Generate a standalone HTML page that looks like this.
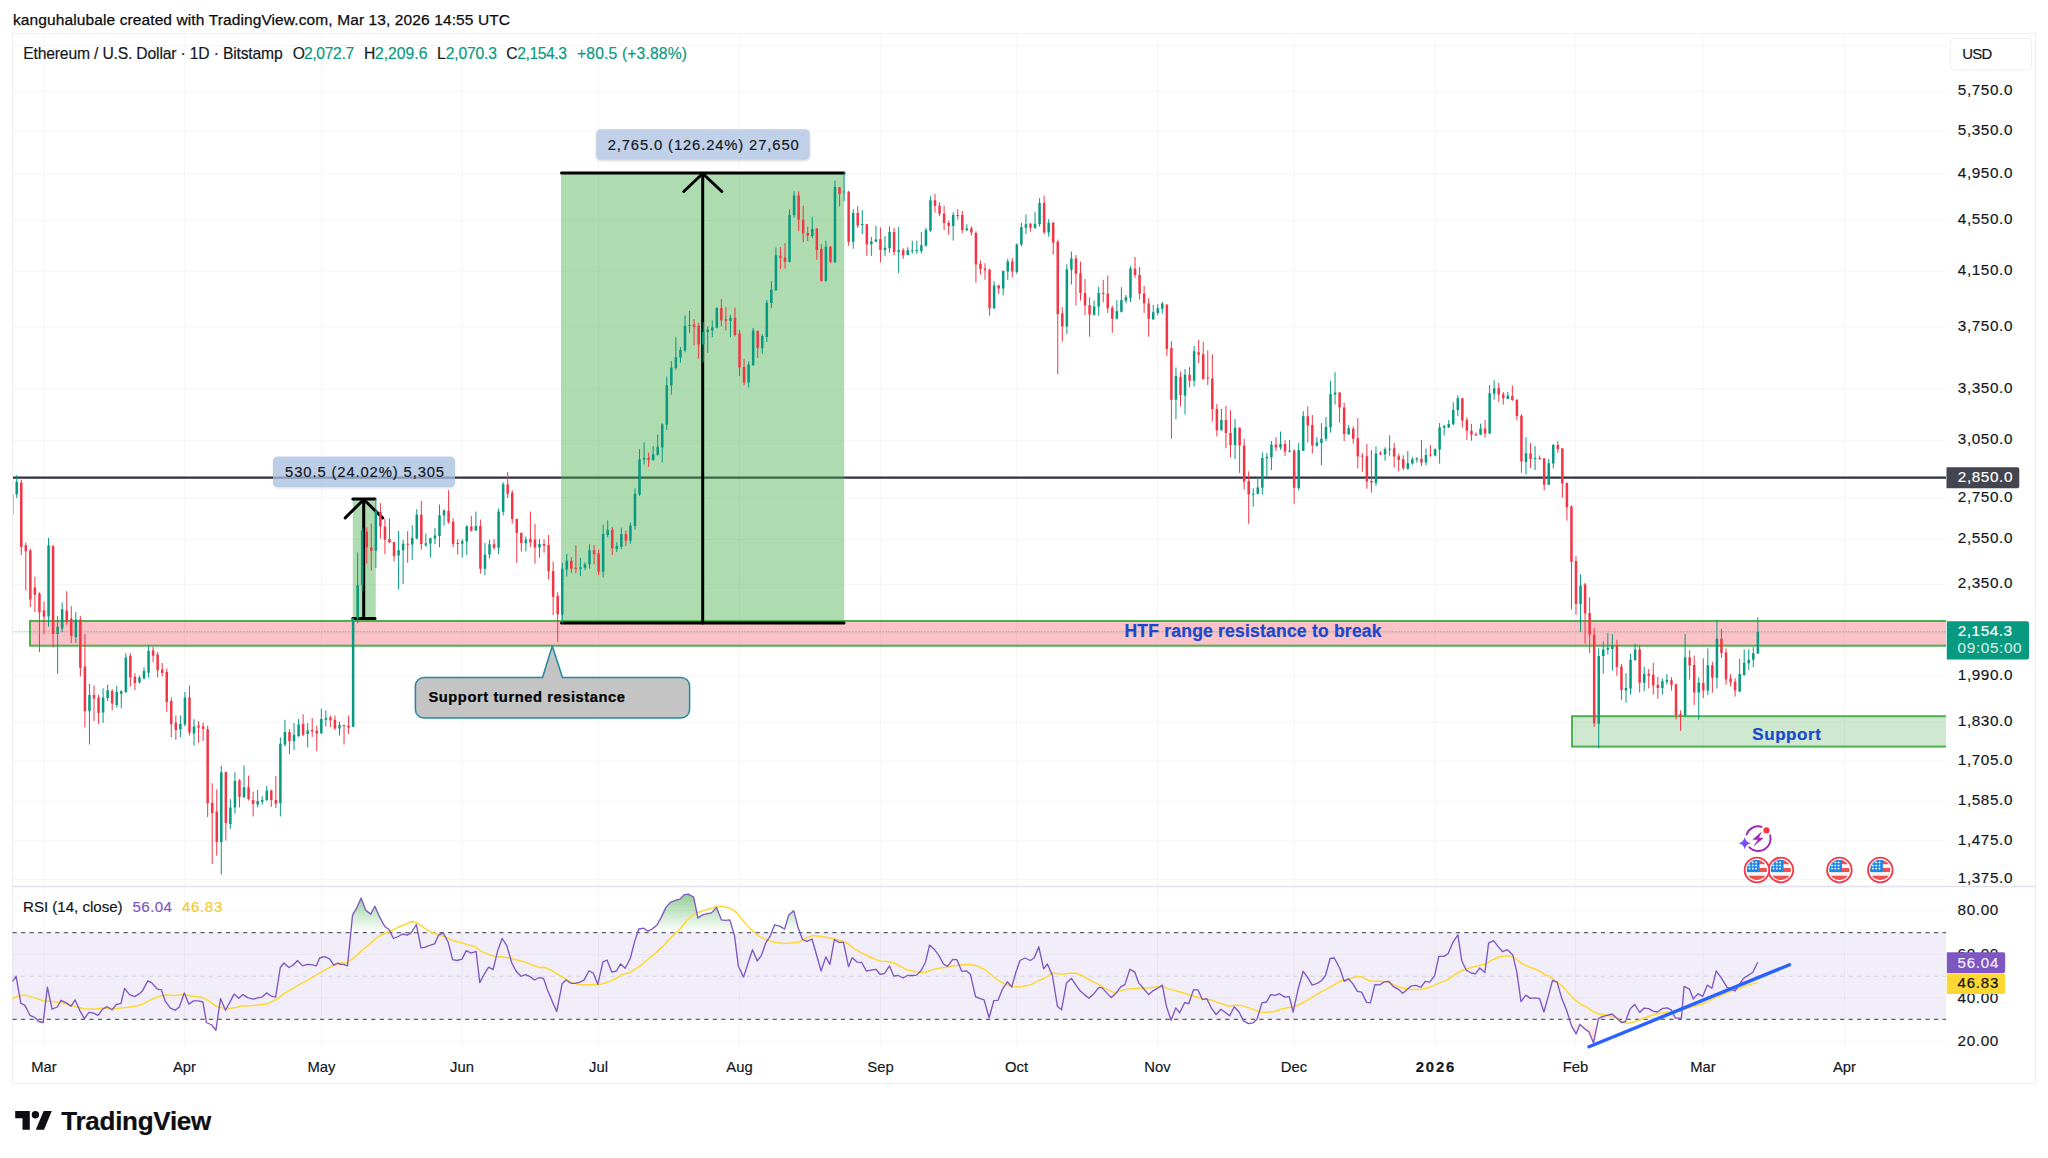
<!DOCTYPE html>
<html lang="en"><head><meta charset="utf-8"><title>ETHUSD chart</title><style>html,body{margin:0;padding:0;background:#fff}svg{display:block}</style></head><body>
<svg width="2048" height="1158" viewBox="0 0 2048 1158" font-family='"Liberation Sans", sans-serif' shape-rendering="auto">
<defs>
<linearGradient id="gob" gradientUnits="userSpaceOnUse" x1="0" y1="893" x2="0" y2="932.6"><stop offset="0" stop-color="#4caf50" stop-opacity="0.62"/><stop offset="1" stop-color="#4caf50" stop-opacity="0"/></linearGradient>
<linearGradient id="gos" gradientUnits="userSpaceOnUse" x1="0" y1="1019.4" x2="0" y2="1050"><stop offset="0" stop-color="#ff5252" stop-opacity="0"/><stop offset="1" stop-color="#ff5252" stop-opacity="0.4"/></linearGradient>
<clipPath id="cpMain"><rect x="12.5" y="33.5" width="1933.5" height="853.0"/></clipPath>
<clipPath id="cpOB"><rect x="0" y="880" width="2048" height="52.6"/></clipPath>
<clipPath id="cpOS"><rect x="0" y="1019.4" width="2048" height="40"/></clipPath>
<clipPath id="flagclip"><circle cx="0" cy="0" r="10.2"/></clipPath>
<filter id="sh" x="-10%" y="-30%" width="120%" height="170%"><feDropShadow dx="0" dy="1" stdDeviation="1.2" flood-color="#000" flood-opacity="0.18"/></filter>
</defs>
<rect width="2048" height="1158" fill="#fff"/>
<text x="13.0" y="24.8" font-size="15.5" fill="#0c0c0e" textLength="497" lengthAdjust="spacing" stroke="#0c0c0e" stroke-width="0.25">kanguhalubale created with TradingView.com, Mar 13, 2026 14:55 UTC</text>
<path d="M44 33.5V1048.8M184.5 33.5V1048.8M321.5 33.5V1048.8M462 33.5V1048.8M598.5 33.5V1048.8M739.5 33.5V1048.8M880.5 33.5V1048.8M1016.5 33.5V1048.8M1157.5 33.5V1048.8M1294 33.5V1048.8M1435 33.5V1048.8M1575.5 33.5V1048.8M1703 33.5V1048.8M1844.5 33.5V1048.8M12.5 91.5H1946.0M12.5 131.2H1946.0M12.5 174.0H1946.0M12.5 220.4H1946.0M12.5 271.1H1946.0M12.5 326.9H1946.0M12.5 389.1H1946.0M12.5 440.7H1946.0M12.5 497.8H1946.0M12.5 539.4H1946.0M12.5 584.3H1946.0M12.5 675.9H1946.0M12.5 722.1H1946.0M12.5 761.1H1946.0M12.5 801.3H1946.0M12.5 840.9H1946.0M12.5 879.6H1946.0M12.5 45.4H1946.0M12.5 633.3395925784639H1946.0M12.5 910.7H1946.0M12.5 954.4H1946.0M12.5 997.9H1946.0M12.5 1041.4H1946.0" stroke="#f4f5f7" stroke-width="1" fill="none"/>
<g clip-path="url(#cpMain)">
<path d="M12.5 477.65H1946.0" stroke="#2e3140" stroke-width="2.1"/>
<rect x="30" y="621" width="1926.0" height="24.7" fill="rgba(242,54,69,0.30)" stroke="#4caf50" stroke-width="2"/>
<rect x="1572" y="716.2" width="384.0" height="30.4" fill="rgba(76,175,80,0.27)" stroke="#4caf50" stroke-width="2"/>
<rect x="561" y="173" width="283.2" height="450" fill="rgba(76,175,80,0.45)"/>
<rect x="352.8" y="499" width="23" height="119.7" fill="rgba(76,175,80,0.45)"/>
<path d="M12.5 631.8H1946.0" stroke="#089981" stroke-width="1" stroke-dasharray="1 2" opacity="0.8"/>
<g stroke="#000" stroke-width="3" stroke-linecap="round" stroke-linejoin="round" fill="none">
<path d="M561.5 173H844"/><path d="M561.5 623H844"/><path d="M702.7 623V173.5"/><path d="M683.8 191.5L702.7 173.5L721.8 191.5"/>
</g>
<g stroke="#000" stroke-width="3" stroke-linecap="round" stroke-linejoin="round" fill="none">
<path d="M352.8 498.9H375"/><path d="M352.8 618.6H375"/><path d="M363.7 618V499.5"/><path d="M345.2 517.9L363.7 499.5L382.6 517.9"/>
</g>
<path d="M12.18 494.4V516.2M16.72 475.2V498.1M48.55 537.9V626.7M57.64 615.9V673.8M62.18 602.4V632.2M75.82 612.2V643.0M89.46 684.0V744.5M103.10 688.3V722.8M107.64 684.7V701.0M116.74 685.8V707.6M121.28 690.2V708.3M125.83 653.2V693.1M139.47 675.7V683.6M144.01 667.3V679.3M148.56 644.8V677.5M180.38 715.5V737.3M184.93 692.0V726.4M194.02 719.2V745.6M221.29 765.9V874.5M230.39 799.1V828.7M234.93 772.3V813.7M244.02 765.4V798.3M257.66 790.0V807.4M262.21 796.3V804.6M266.75 786.1V801.0M280.39 737.4V816.5M284.94 719.8V746.6M294.03 723.1V749.9M298.58 718.9V736.9M307.67 723.1V747.4M321.31 708.7V734.1M325.85 710.1V726.4M339.49 721.7V735.5M353.13 618.0V726.8M357.67 552.4V623.2M362.22 528.2V591.3M375.86 498.9V567.9M398.59 530.8V589.5M403.13 539.8V584.0M412.23 525.1V559.8M416.77 509.2V539.4M425.86 533.4V546.9M430.41 537.7V557.6M434.96 528.2V544.1M439.50 504.6V547.2M444.05 509.2V525.6M462.23 539.1V557.6M466.78 525.1V555.0M475.87 511.5V530.8M484.96 542.9V575.2M489.51 539.8V558.4M498.60 508.4V554.1M503.15 482.1V515.6M525.88 536.5V551.5M539.51 539.1V557.6M562.24 562.8V623.1M566.79 554.0V576.7M580.43 557.9V576.1M584.97 562.3V570.2M589.52 544.3V568.7M603.16 524.7V577.5M607.70 520.3V537.3M616.80 542.3V552.0M621.34 527.6V549.0M630.43 522.6V543.8M634.98 488.5V529.7M639.53 449.2V495.9M644.07 442.4V464.5M653.16 446.0V460.9M657.71 434.5V455.7M662.26 423.3V462.4M666.80 376.4V430.1M671.35 361.1V394.6M675.89 337.3V369.9M680.44 347.0V362.6M684.99 315.3V352.3M689.53 310.9V332.9M703.17 322.0V362.3M707.72 326.4V352.9M712.26 320.3V337.1M716.81 307.1V328.4M730.45 314.8V337.1M748.63 361.5V387.7M753.18 328.0V366.0M762.27 334.1V353.8M766.81 300.0V342.0M771.36 281.1V308.1M775.91 247.6V290.9M789.54 209.3V262.4M794.09 191.4V217.8M812.27 216.8V238.1M825.91 240.7V281.7M835.00 180.6V263.1M844.10 172.1V201.1M853.19 209.3V248.8M862.28 210.1V234.0M871.37 237.1V255.9M875.92 225.9V242.1M885.01 236.1V255.9M889.56 226.5V252.7M898.65 226.9V273.2M907.74 247.2V255.3M912.29 240.7V253.7M916.83 240.7V253.7M921.38 231.8V253.5M925.92 227.8V246.5M930.47 196.3V231.8M953.20 212.2V240.6M966.84 224.3V231.3M994.11 281.4V309.0M1003.21 270.5V295.4M1007.75 258.8V279.8M1016.84 243.4V273.8M1021.39 222.7V246.5M1025.94 214.5V234.1M1035.03 212.2V229.0M1039.57 198.2V226.6M1048.67 219.2V236.7M1066.85 264.4V333.9M1071.40 251.6V284.5M1094.13 300.6V315.7M1098.67 286.8V315.7M1116.86 300.1V319.5M1121.40 287.3V312.5M1125.95 295.0V302.9M1130.49 266.3V302.0M1153.22 304.8V319.9M1157.77 304.3V315.3M1162.32 302.0V313.6M1175.95 367.5V419.3M1185.05 369.0V414.4M1194.14 346.0V386.5M1221.41 408.9V430.7M1235.05 419.1V459.2M1253.24 488.1V506.7M1257.78 477.3V494.4M1262.33 452.4V494.7M1266.87 453.0V477.6M1271.42 441.0V470.0M1280.51 431.5V449.7M1289.60 440.0V452.4M1298.70 443.1V490.4M1303.24 411.2V451.1M1316.88 437.2V446.7M1321.43 423.1V465.3M1325.97 417.2V441.2M1330.52 380.8V432.6M1335.06 372.2V404.5M1348.70 425.0V434.9M1375.98 446.3V485.8M1385.07 447.3V460.6M1389.62 435.3V455.8M1407.80 451.0V469.7M1412.35 457.1V464.8M1416.89 457.2V462.8M1425.98 448.6V465.4M1435.08 448.4V456.4M1439.62 423.0V463.6M1444.17 424.8V435.6M1448.71 420.1V427.9M1453.26 402.3V425.1M1457.81 395.4V416.1M1480.54 423.6V435.1M1489.63 385.0V433.9M1494.17 380.2V399.7M1507.81 392.0V399.2M1526.00 437.2V474.5M1535.09 446.0V470.0M1548.73 458.8V484.9M1553.27 444.1V468.5M1580.55 574.3V631.9M1598.73 648.4V748.3M1603.28 641.3V673.7M1607.82 633.1V654.6M1612.37 634.1V670.6M1626.01 673.1V702.8M1630.55 653.6V694.6M1635.10 643.9V660.8M1644.19 666.9V691.1M1662.38 678.6V694.6M1666.92 674.1V684.7M1685.11 634.1V716.1M1698.74 677.2V719.8M1707.84 648.4V695.0M1716.93 620.4V688.4M1739.66 658.7V691.9M1744.20 649.5V675.7M1748.75 649.5V670.0M1753.30 647.0V667.3M1757.84 617.3V654.0" stroke="#089981" stroke-width="1" fill="none"/>
<path d="M21.27 479.9V555.0M25.82 542.6V590.5M30.36 548.8V606.8M34.91 576.7V612.2M39.45 592.3V652.1M44.00 601.4V634.0M53.09 545.2V647.7M66.73 591.2V624.9M71.28 606.1V643.0M80.37 615.9V676.4M84.91 634.0V727.5M94.01 685.4V721.0M98.55 694.9V723.9M112.19 689.1V710.1M130.37 653.2V686.5M134.92 673.1V690.2M153.10 646.7V662.2M157.65 652.1V677.5M162.20 663.0V676.4M166.74 668.4V711.9M171.29 697.4V737.3M175.83 715.5V739.8M189.47 685.4V735.5M198.56 721.0V742.7M203.11 722.8V740.9M207.66 725.8V817.0M212.20 783.3V864.0M216.75 789.4V855.7M225.84 771.4V840.5M239.48 779.2V807.4M248.57 775.6V800.5M253.12 791.6V816.5M271.30 789.4V806.8M275.85 776.1V807.9M289.48 729.2V754.3M303.12 714.2V736.1M312.21 718.1V736.9M316.76 725.8V751.3M330.40 715.6V727.2M334.94 715.6V730.0M344.04 725.0V744.6M348.58 715.6V734.1M366.77 527.4V563.6M371.31 523.6V570.5M380.40 503.2V538.6M384.95 518.7V554.1M389.50 518.4V542.9M394.04 542.0V561.4M407.68 531.2V562.8M421.32 500.9V549.8M448.59 490.2V523.6M453.14 518.2V547.2M457.69 539.1V554.5M471.32 516.1V531.7M480.42 519.6V573.6M494.05 539.1V549.8M507.69 472.1V498.0M512.24 490.2V523.6M516.78 518.7V562.8M521.33 532.5V551.5M530.42 511.5V546.9M534.97 523.9V563.6M544.06 539.4V552.7M548.61 535.1V579.5M553.15 561.6V615.1M557.70 592.2V642.1M571.34 557.0V573.1M575.88 545.2V573.1M594.07 545.2V564.3M598.61 549.6V575.2M612.25 527.0V554.9M625.89 530.5V546.1M648.62 452.7V466.8M694.08 319.1V345.5M698.62 322.9V358.7M721.35 299.0V326.4M725.90 307.1V330.4M734.99 307.7V336.5M739.54 329.8V376.1M744.08 358.9V385.3M757.72 330.4V357.9M780.45 247.2V269.1M785.00 243.2V268.5M798.64 191.4V231.0M803.18 205.6V242.1M807.73 226.5V241.1M816.82 227.9V259.8M821.37 244.2V281.7M830.46 245.8V263.1M839.55 186.9V206.6M848.64 190.8V245.8M857.73 206.2V227.9M866.83 223.9V255.9M880.46 227.5V262.4M894.10 227.9V255.3M903.19 248.2V259.0M935.02 194.0V212.6M939.56 202.2V216.1M944.11 205.7V230.1M948.65 220.8V234.8M957.75 209.2V219.6M962.29 211.0V233.2M971.38 226.2V235.5M975.93 231.3V282.6M980.48 260.5V274.4M985.02 263.3V279.8M989.57 268.6V315.7M998.66 284.9V293.8M1012.30 258.1V277.5M1030.48 223.1V231.8M1044.12 195.6V234.1M1053.21 222.0V254.6M1057.76 239.5V374.0M1062.30 307.1V341.6M1075.94 255.1V305.5M1080.49 261.6V300.6M1085.03 279.1V315.3M1089.58 297.3V336.7M1103.22 279.8V302.4M1107.76 275.6V312.9M1112.31 305.9V332.8M1135.04 257.0V277.9M1139.59 267.0V299.6M1144.13 286.1V312.9M1148.68 298.2V336.7M1166.86 303.9V356.1M1171.41 341.3V438.7M1180.50 371.7V406.4M1189.59 367.1V387.4M1198.68 339.9V363.3M1203.23 341.8V379.8M1207.78 350.4V385.1M1212.32 354.2V421.6M1216.87 404.1V436.4M1225.96 406.0V448.2M1230.51 410.2V457.3M1239.60 427.3V472.9M1244.14 438.7V489.6M1248.69 471.4V523.8M1275.97 437.2V451.1M1285.06 440.2V455.8M1294.15 449.2V503.7M1307.79 406.4V442.5M1312.33 415.0V453.5M1339.61 392.2V422.6M1344.16 402.6V441.0M1353.25 426.4V443.5M1357.79 418.2V468.5M1362.34 453.0V471.9M1366.89 444.0V488.7M1371.43 450.1V492.5M1380.52 451.1V455.2M1394.16 443.1V467.6M1398.71 453.9V471.4M1403.25 455.3V470.2M1421.44 440.0V466.2M1430.53 445.1V456.7M1462.35 398.0V427.4M1466.90 417.3V440.0M1471.44 423.9V440.7M1475.99 432.5V436.0M1485.08 419.9V437.7M1498.72 383.0V401.8M1503.27 392.0V404.6M1512.36 385.4V400.9M1516.90 399.4V420.4M1521.45 414.1V472.8M1530.54 443.2V467.9M1539.63 455.5V459.8M1544.18 458.1V490.4M1557.82 441.2V452.7M1562.36 448.1V497.7M1566.91 482.4V520.6M1571.46 505.4V609.4M1576.00 556.2V614.7M1585.09 582.8V643.7M1589.64 597.3V652.9M1594.19 627.9V727.0M1616.92 639.8V675.7M1621.46 664.2V699.7M1639.65 645.4V692.5M1648.74 669.0V688.4M1653.28 662.8V694.6M1657.83 676.8V698.7M1671.47 677.2V690.5M1676.01 683.9V719.6M1680.56 710.4V730.9M1689.65 650.1V679.6M1694.20 655.6V704.8M1703.29 658.3V698.1M1712.38 661.8V692.5M1721.47 629.0V657.7M1726.02 648.4V684.7M1730.57 674.1V686.4M1735.11 678.2V696.6" stroke="#f23645" stroke-width="1" fill="none"/>
<path d="M10.93 494.4H13.43V514.4H10.93ZM15.47 481.7H17.97V494.4H15.47ZM47.30 545.2H49.80V616.6H47.30ZM56.39 626.7H58.89V634.0H56.39ZM60.93 609.3H63.43V628.5H60.93ZM74.57 619.5H77.07V636.9H74.57ZM88.21 694.9H90.71V711.2H88.21ZM101.85 697.4H104.35V712.6H101.85ZM106.39 690.2H108.89V698.1H106.39ZM115.49 692.0H117.99V705.0H115.49ZM120.03 691.2H122.53V693.8H120.03ZM124.58 657.5H127.08V692.0H124.58ZM138.22 677.5H140.72V682.2H138.22ZM142.76 670.9H145.26V678.6H142.76ZM147.31 651.0H149.81V672.8H147.31ZM179.13 723.9H181.63V729.3H179.13ZM183.68 697.4H186.18V724.6H183.68ZM192.77 726.4H195.27V733.6H192.77ZM220.04 772.3H222.54V841.9H220.04ZM229.14 807.4H231.64V824.0H229.14ZM233.68 781.1H236.18V807.4H233.68ZM242.77 787.2H245.27V796.9H242.77ZM256.41 801.0H258.91V804.6H256.41ZM260.96 799.9H263.46V801.8H260.96ZM265.50 790.8H268.00V799.9H265.50ZM279.14 743.8H281.64V803.2H279.14ZM283.69 731.9H286.19V744.6H283.69ZM292.78 734.7H295.28V741.0H292.78ZM297.33 724.5H299.83V736.1H297.33ZM306.42 730.5H308.92V734.1H306.42ZM320.06 718.9H322.56V733.3H320.06ZM324.60 718.1H327.10V719.8H324.60ZM338.24 725.0H340.74V728.6H338.24ZM351.88 618.5H354.38V726.8H351.88ZM356.42 585.2H358.92V618.5H356.42ZM360.97 530.8H363.47V585.2H360.97ZM374.61 510.9H377.11V550.7H374.61ZM397.34 550.2H399.84V555.5H397.34ZM401.88 543.8H404.38V550.2H401.88ZM410.98 538.1H413.48V544.6H410.98ZM415.52 514.7H418.02V538.6H415.52ZM424.61 543.2H427.11V545.0H424.61ZM429.16 538.2H431.66V543.4H429.16ZM433.71 535.6H436.21V538.6H433.71ZM438.25 515.3H440.75V536.0H438.25ZM442.80 510.6H445.30V515.6H442.80ZM460.98 541.2H463.48V543.8H460.98ZM465.53 526.5H468.03V541.5H465.53ZM474.62 526.1H477.12V530.5H474.62ZM483.71 554.5H486.21V568.8H483.71ZM488.26 544.3H490.76V554.6H488.26ZM497.35 511.5H499.85V547.7H497.35ZM501.90 484.2H504.40V511.8H501.90ZM524.63 539.4H527.13V543.2H524.63ZM538.26 544.1H540.76V547.6H538.26ZM560.99 568.7H563.49V614.8H560.99ZM565.54 560.8H568.04V569.6H565.54ZM579.18 567.3H581.68V568.7H579.18ZM583.72 564.3H586.22V567.8H583.72ZM588.27 550.2H590.77V564.3H588.27ZM601.91 534.1H604.41V571.7H601.91ZM606.45 529.7H608.95V534.9H606.45ZM615.55 546.1H618.05V549.0H615.55ZM620.09 534.1H622.59V546.7H620.09ZM629.18 525.6H631.68V540.8H629.18ZM633.73 493.8H636.23V526.1H633.73ZM638.28 459.2H640.78V494.4H638.28ZM642.82 457.7H645.32V459.5H642.82ZM651.91 454.2H654.41V460.1H651.91ZM656.46 446.8H658.96V454.8H656.46ZM661.01 424.2H663.51V447.4H661.01ZM665.55 385.2H668.05V424.8H665.55ZM670.10 367.5H672.60V385.2H670.10ZM674.64 357.3H677.14V368.1H674.64ZM679.19 349.9H681.69V357.6H679.19ZM683.74 325.8H686.24V350.5H683.74ZM688.28 325.0H690.78V326.0H688.28ZM701.92 331.7H704.42V344.6H701.92ZM706.47 329.4H708.97V332.3H706.47ZM711.01 327.4H713.51V330.4H711.01ZM715.56 308.1H718.06V327.8H715.56ZM729.20 317.7H731.70V320.7H729.20ZM747.38 364.6H749.88V382.6H747.38ZM751.93 330.4H754.43V365.0H751.93ZM761.02 336.1H763.52V348.3H761.02ZM765.56 302.6H768.06V337.1H765.56ZM770.11 289.8H772.61V303.0H770.11ZM774.66 255.3H777.16V290.3H774.66ZM788.29 214.7H790.79V261.8H788.29ZM792.84 195.5H795.34V215.3H792.84ZM811.02 228.9H813.52V236.1H811.02ZM824.66 246.8H827.16V281.1H824.66ZM833.75 186.9H836.25V262.0H833.75ZM842.85 191.4H845.35V192.4H842.85ZM851.94 213.1H854.44V241.7H851.94ZM861.03 223.9H863.53V224.9H861.03ZM870.12 241.5H872.62V244.2H870.12ZM874.67 239.5H877.17V241.7H874.67ZM883.76 247.8H886.26V249.9H883.76ZM888.31 232.0H890.81V248.2H888.31ZM897.40 250.3H899.90V251.9H897.40ZM906.49 250.3H908.99V254.9H906.49ZM911.04 250.3H913.54V251.3H911.04ZM915.58 249.9H918.08V250.9H915.58ZM920.13 245.3H922.63V251.1H920.13ZM924.67 230.1H927.17V245.8H924.67ZM929.22 200.3H931.72V230.8H929.22ZM951.95 215.0H954.45V225.9H951.95ZM965.59 228.5H968.09V230.1H965.59ZM992.86 285.6H995.36V308.3H992.86ZM1001.96 271.0H1004.46V288.4H1001.96ZM1006.50 261.6H1009.00V271.4H1006.50ZM1015.59 244.6H1018.09V272.1H1015.59ZM1020.14 227.3H1022.64V244.6H1020.14ZM1024.69 224.3H1027.19V227.8H1024.69ZM1033.78 223.8H1036.28V227.8H1033.78ZM1038.32 202.9H1040.82V224.3H1038.32ZM1047.42 222.7H1049.92V232.5H1047.42ZM1065.60 269.3H1068.10V326.5H1065.60ZM1070.15 258.6H1072.65V269.8H1070.15ZM1092.88 306.6H1095.38V314.8H1092.88ZM1097.42 293.1H1099.92V306.6H1097.42ZM1115.61 311.3H1118.11V318.8H1115.61ZM1120.15 300.1H1122.65V311.8H1120.15ZM1124.70 297.3H1127.20V300.8H1124.70ZM1129.24 268.6H1131.74V297.8H1129.24ZM1151.97 312.2H1154.47V319.2H1151.97ZM1156.52 308.3H1159.02V312.9H1156.52ZM1161.07 303.6H1163.57V308.7H1161.07ZM1174.70 376.0H1177.20V399.8H1174.70ZM1183.80 374.7H1186.30V395.4H1183.80ZM1192.89 351.3H1195.39V380.8H1192.89ZM1220.16 420.1H1222.66V430.2H1220.16ZM1233.80 427.7H1236.30V445.0H1233.80ZM1251.99 493.8H1254.49V494.8H1251.99ZM1256.53 487.5H1259.03V493.8H1256.53ZM1261.08 458.1H1263.58V487.7H1261.08ZM1265.62 456.8H1268.12V458.3H1265.62ZM1270.17 444.8H1272.67V457.3H1270.17ZM1279.26 444.0H1281.76V447.6H1279.26ZM1288.35 450.7H1290.85V451.7H1288.35ZM1297.45 450.1H1299.95V488.1H1297.45ZM1301.99 416.3H1304.49V450.7H1301.99ZM1315.63 442.5H1318.13V445.7H1315.63ZM1320.18 438.7H1322.68V442.9H1320.18ZM1324.72 426.9H1327.22V438.7H1324.72ZM1329.27 394.1H1331.77V427.3H1329.27ZM1333.81 392.6H1336.31V394.5H1333.81ZM1347.45 428.3H1349.95V434.3H1347.45ZM1374.73 453.5H1377.23V482.8H1374.73ZM1383.82 449.2H1386.32V454.5H1383.82ZM1388.37 448.8H1390.87V449.8H1388.37ZM1406.55 463.3H1409.05V468.8H1406.55ZM1411.10 459.3H1413.60V463.6H1411.10ZM1415.64 458.4H1418.14V459.8H1415.64ZM1424.73 455.0H1427.23V462.4H1424.73ZM1433.83 449.3H1436.33V455.5H1433.83ZM1438.37 427.4H1440.87V449.5H1438.37ZM1442.92 426.1H1445.42V427.7H1442.92ZM1447.46 423.9H1449.96V427.4H1447.46ZM1452.01 410.1H1454.51V424.2H1452.01ZM1456.56 398.3H1459.06V410.1H1456.56ZM1479.29 428.6H1481.79V434.8H1479.29ZM1488.38 393.3H1490.88V433.4H1488.38ZM1492.92 388.2H1495.42V393.7H1492.92ZM1506.56 395.8H1509.06V398.9H1506.56ZM1524.75 453.3H1527.25V461.9H1524.75ZM1533.84 458.1H1536.34V459.1H1533.84ZM1547.48 463.3H1549.98V484.7H1547.48ZM1552.02 445.0H1554.52V463.6H1552.02ZM1579.30 585.7H1581.80V604.1H1579.30ZM1597.48 656.0H1599.98V723.7H1597.48ZM1602.03 649.5H1604.53V656.0H1602.03ZM1606.57 647.8H1609.07V649.5H1606.57ZM1611.12 645.4H1613.62V649.1H1611.12ZM1624.76 688.0H1627.26V690.5H1624.76ZM1629.30 659.7H1631.80V688.4H1629.30ZM1633.85 649.5H1636.35V660.1H1633.85ZM1642.94 673.7H1645.44V682.7H1642.94ZM1661.13 681.3H1663.63V688.0H1661.13ZM1665.67 679.8H1668.17V681.7H1665.67ZM1683.86 657.3H1686.36V715.5H1683.86ZM1697.49 682.7H1699.99V692.5H1697.49ZM1706.59 665.3H1709.09V690.5H1706.59ZM1715.68 638.8H1718.18V677.8H1715.68ZM1738.41 674.1H1740.91V691.5H1738.41ZM1742.95 662.8H1745.45V675.1H1742.95ZM1747.50 659.7H1750.00V663.2H1747.50ZM1752.05 653.2H1754.55V659.7H1752.05ZM1756.59 632.0H1759.09V653.6H1756.59Z" fill="#089981"/>
<path d="M20.02 482.5H22.52V547.0H20.02ZM24.57 545.2H27.07V551.3H24.57ZM29.11 550.6H31.61V599.5H29.11ZM33.66 587.6H36.16V594.8H33.66ZM38.20 593.4H40.70V612.2H38.20ZM42.75 610.4H45.25V616.6H42.75ZM51.84 545.9H54.34V634.0H51.84ZM65.48 610.4H67.98V621.3H65.48ZM70.03 618.4H72.53V635.8H70.03ZM79.12 619.5H81.62V667.7H79.12ZM83.66 666.6H86.16V711.2H83.66ZM92.76 694.9H95.26V698.5H92.76ZM97.30 697.4H99.80V713.0H97.30ZM110.94 690.9H113.44V703.6H110.94ZM129.12 655.7H131.62V677.5H129.12ZM133.67 676.7H136.17V682.9H133.67ZM151.85 650.3H154.35V655.7H151.85ZM156.40 654.6H158.90V670.2H156.40ZM160.95 669.5H163.45V673.1H160.95ZM165.49 672.0H167.99V702.1H165.49ZM170.04 701.0H172.54V723.9H170.04ZM174.58 722.8H177.08V730.0H174.58ZM188.22 697.4H190.72V732.6H188.22ZM197.31 725.7H199.81V727.5H197.31ZM201.86 726.4H204.36V728.9H201.86ZM206.41 729.2H208.91V803.2H206.41ZM210.95 802.7H213.45V812.9H210.95ZM215.50 811.5H218.00V841.9H215.50ZM224.59 772.3H227.09V823.1H224.59ZM238.23 780.3H240.73V797.1H238.23ZM247.32 787.2H249.82V799.1H247.32ZM251.87 799.9H254.37V804.1H251.87ZM270.05 790.8H272.55V799.9H270.05ZM274.60 799.9H277.10V803.8H274.60ZM288.23 731.9H290.73V741.0H288.23ZM301.87 723.9H304.37V734.7H301.87ZM310.96 730.0H313.46V731.4H310.96ZM315.51 730.8H318.01V733.6H315.51ZM329.15 717.5H331.65V720.3H329.15ZM333.69 719.8H336.19V728.6H333.69ZM342.79 725.0H345.29V726.0H342.79ZM347.33 725.8H349.83V727.8H347.33ZM365.52 531.7H368.02V547.2H365.52ZM370.06 547.2H372.56V550.7H370.06ZM379.15 511.8H381.65V526.5H379.15ZM383.70 526.5H386.20V539.4H383.70ZM388.25 539.1H390.75V542.6H388.25ZM392.79 542.0H395.29V555.9H392.79ZM406.43 543.8H408.93V544.8H406.43ZM420.07 514.7H422.57V544.1H420.07ZM447.34 510.9H449.84V522.2H447.34ZM451.89 521.8H454.39V543.8H451.89ZM456.44 542.9H458.94V543.9H456.44ZM470.07 526.5H472.57V530.5H470.07ZM479.17 526.1H481.67V568.8H479.17ZM492.80 544.3H495.30V547.7H492.80ZM506.44 484.5H508.94V493.7H506.44ZM510.99 492.8H513.49V519.1H510.99ZM515.53 519.1H518.03V532.9H515.53ZM520.08 532.9H522.58V542.9H520.08ZM529.17 539.1H531.67V542.6H529.17ZM533.72 539.8H536.22V547.6H533.72ZM542.81 544.1H545.31V545.8H542.81ZM547.36 545.0H549.86V571.4H547.36ZM551.90 571.1H554.40V596.8H551.90ZM556.45 596.0H558.95V614.2H556.45ZM570.09 560.8H572.59V568.7H570.09ZM574.63 567.8H577.13V569.0H574.63ZM592.82 550.2H595.32V554.0H592.82ZM597.36 553.2H599.86V571.7H597.36ZM611.00 529.7H613.50V548.2H611.00ZM624.64 534.1H627.14V540.8H624.64ZM647.37 457.7H649.87V460.1H647.37ZM692.83 324.4H695.33V327.0H692.83ZM697.37 325.8H699.87V344.6H697.37ZM720.10 308.1H722.60V320.3H720.10ZM724.65 319.3H727.15V320.7H724.65ZM733.74 317.7H736.24V335.1H733.74ZM738.29 333.5H740.79V367.6H738.29ZM742.83 367.0H745.33V382.6H742.83ZM756.47 331.1H758.97V348.1H756.47ZM779.20 255.7H781.70V257.8H779.20ZM783.75 257.4H786.25V261.8H783.75ZM797.39 195.5H799.89V219.8H797.39ZM801.93 219.8H804.43V233.4H801.93ZM806.48 233.0H808.98V235.6H806.48ZM815.57 228.5H818.07V249.9H815.57ZM820.12 248.8H822.62V281.1H820.12ZM829.21 246.8H831.71V262.0H829.21ZM838.30 187.3H840.80V194.0H838.30ZM847.39 191.8H849.89V241.7H847.39ZM856.48 213.1H858.98V225.5H856.48ZM865.58 224.3H868.08V244.6H865.58ZM879.21 239.1H881.71V249.9H879.21ZM892.85 232.0H895.35V251.9H892.85ZM901.94 250.3H904.44V255.3H901.94ZM933.77 200.3H936.27V206.1H933.77ZM938.31 205.7H940.81V213.8H938.31ZM942.86 213.8H945.36V223.1H942.86ZM947.40 222.7H949.90V225.9H947.40ZM956.50 215.0H959.00V216.0H956.50ZM961.04 215.0H963.54V230.1H961.04ZM970.13 228.5H972.63V232.5H970.13ZM974.68 232.9H977.18V264.4H974.68ZM979.23 264.0H981.73V269.1H979.23ZM983.77 268.6H986.27V270.3H983.77ZM988.32 269.8H990.82V308.3H988.32ZM997.41 285.6H999.91V288.4H997.41ZM1011.05 261.6H1013.55V271.4H1011.05ZM1029.23 223.8H1031.73V227.8H1029.23ZM1042.87 202.9H1045.37V232.5H1042.87ZM1051.96 222.7H1054.46V242.5H1051.96ZM1056.51 241.8H1059.01V314.1H1056.51ZM1061.05 313.6H1063.55V326.5H1061.05ZM1074.69 258.6H1077.19V273.8H1074.69ZM1079.24 273.3H1081.74V293.1H1079.24ZM1083.78 293.1H1086.28V305.5H1083.78ZM1088.33 305.2H1090.83V314.6H1088.33ZM1101.97 293.1H1104.47V294.1H1101.97ZM1106.51 293.8H1109.01V308.3H1106.51ZM1111.06 307.8H1113.56V318.8H1111.06ZM1133.79 268.6H1136.29V275.1H1133.79ZM1138.34 274.9H1140.84V293.8H1138.34ZM1142.88 293.6H1145.38V303.6H1142.88ZM1147.43 303.6H1149.93V318.8H1147.43ZM1165.61 304.8H1168.11V348.9H1165.61ZM1170.16 348.1H1172.66V399.8H1170.16ZM1179.25 377.0H1181.75V395.0H1179.25ZM1188.34 374.7H1190.84V380.8H1188.34ZM1197.43 352.3H1199.93V354.8H1197.43ZM1201.98 354.2H1204.48V378.9H1201.98ZM1206.53 377.4H1209.03V378.5H1206.53ZM1211.07 378.5H1213.57V409.3H1211.07ZM1215.62 408.9H1218.12V430.2H1215.62ZM1224.71 420.1H1227.21V433.0H1224.71ZM1229.26 433.0H1231.76V445.0H1229.26ZM1238.35 427.7H1240.85V445.4H1238.35ZM1242.89 445.4H1245.39V481.8H1242.89ZM1247.44 481.1H1249.94V494.4H1247.44ZM1274.72 444.8H1277.22V447.6H1274.72ZM1283.81 444.0H1286.31V451.6H1283.81ZM1292.90 450.7H1295.40V487.7H1292.90ZM1306.54 416.3H1309.04V425.4H1306.54ZM1311.08 425.0H1313.58V445.4H1311.08ZM1338.36 392.6H1340.86V407.4H1338.36ZM1342.91 407.4H1345.41V434.0H1342.91ZM1352.00 428.8H1354.50V438.7H1352.00ZM1356.54 438.3H1359.04V456.4H1356.54ZM1361.09 455.8H1363.59V456.8H1361.09ZM1365.64 456.2H1368.14V481.4H1365.64ZM1370.18 481.1H1372.68V482.4H1370.18ZM1379.27 453.0H1381.77V454.0H1379.27ZM1392.91 448.2H1395.41V456.4H1392.91ZM1397.46 456.2H1399.96V460.0H1397.46ZM1402.00 459.3H1404.50V467.9H1402.00ZM1420.19 458.8H1422.69V462.4H1420.19ZM1429.28 454.6H1431.78V455.6H1429.28ZM1461.10 398.3H1463.60V420.4H1461.10ZM1465.65 419.9H1468.15V430.8H1465.65ZM1470.19 430.8H1472.69V434.6H1470.19ZM1474.74 434.3H1477.24V435.3H1474.74ZM1483.83 428.6H1486.33V433.4H1483.83ZM1497.47 388.2H1499.97V394.5H1497.47ZM1502.02 394.2H1504.52V398.3H1502.02ZM1511.11 395.9H1513.61V400.1H1511.11ZM1515.65 399.7H1518.15V416.1H1515.65ZM1520.20 415.8H1522.70V461.6H1520.20ZM1529.29 453.3H1531.79V459.0H1529.29ZM1538.38 457.9H1540.88V459.0H1538.38ZM1542.93 458.4H1545.43V484.7H1542.93ZM1556.57 445.1H1559.07V448.9H1556.57ZM1561.11 448.6H1563.61V483.6H1561.11ZM1565.66 483.1H1568.16V507.3H1565.66ZM1570.21 506.6H1572.71V561.7H1570.21ZM1574.75 561.0H1577.25V604.1H1574.75ZM1583.84 584.5H1586.34V613.5H1583.84ZM1588.39 613.0H1590.89V634.8H1588.39ZM1592.94 635.1H1595.44V723.3H1592.94ZM1615.67 645.0H1618.17V666.9H1615.67ZM1620.21 666.5H1622.71V689.9H1620.21ZM1638.40 649.5H1640.90V682.7H1638.40ZM1647.49 673.7H1649.99V675.7H1647.49ZM1652.03 674.7H1654.53V685.4H1652.03ZM1656.58 685.0H1659.08V688.0H1656.58ZM1670.22 680.2H1672.72V684.7H1670.22ZM1674.76 684.3H1677.26V715.1H1674.76ZM1679.31 714.1H1681.81V715.5H1679.31ZM1688.40 657.3H1690.90V665.5H1688.40ZM1692.95 664.9H1695.45V692.5H1692.95ZM1702.04 682.9H1704.54V690.5H1702.04ZM1711.13 665.3H1713.63V677.8H1711.13ZM1720.22 638.8H1722.72V653.0H1720.22ZM1724.77 652.6H1727.27V679.6H1724.77ZM1729.32 678.6H1731.82V682.3H1729.32ZM1733.86 681.7H1736.36V690.5H1733.86Z" fill="#f23645"/>
</g>
<text x="1124.5" y="636.9" font-size="17.5" fill="#1848cc" font-weight="bold" textLength="257" lengthAdjust="spacing" stroke="#1848cc" stroke-width="0.22">HTF range resistance to break</text>
<text x="1752.3" y="740.1" font-size="17.0" fill="#1848cc" font-weight="bold" textLength="68.5" lengthAdjust="spacing" stroke="#1848cc" stroke-width="0.22">Support</text>
<rect x="596.2" y="129.2" width="213.6" height="30.6" rx="4.5" fill="#c0d0e8" filter="url(#sh)"/>
<text x="607.7" y="150.2" font-size="14.8" fill="#131722" textLength="191" lengthAdjust="spacing" stroke="#131722" stroke-width="0.18">2,765.0 (126.24%) 27,650</text>
<rect x="273" y="456.4" width="182" height="30.8" rx="4.5" fill="rgba(170,192,226,0.72)" filter="url(#sh)"/>
<text x="285.1" y="477.4" font-size="14.8" fill="#131722" textLength="159" lengthAdjust="spacing" stroke="#131722" stroke-width="0.18">530.5 (24.02%) 5,305</text>
<path d="M424 677.5H542.5L552.3 646L562.5 677.5H681a8.6 8.6 0 0 1 8.6 8.6V709.5a8.6 8.6 0 0 1-8.6 8.6H424a8.6 8.6 0 0 1-8.6-8.6V686.1a8.6 8.6 0 0 1 8.6-8.6Z" fill="#c4c4c4" stroke="#1f8aa0" stroke-width="1.5" stroke-linejoin="round"/>
<text x="428.4" y="702.2" font-size="14.7" fill="#000" font-weight="bold" textLength="196.6" lengthAdjust="spacing" stroke="#000" stroke-width="0.22">Support turned resistance</text>
<text x="23.2" y="58.6" font-size="15.7" fill="#131722" textLength="259.5" lengthAdjust="spacing" stroke="#131722" stroke-width="0.18">Ethereum / U.S. Dollar · 1D · Bitstamp</text>
<text x="292.7" y="58.6" font-size="15.7" fill="#131722" textLength="9.6" lengthAdjust="spacing" stroke="#131722" stroke-width="0.18">O</text>
<text x="304" y="58.6" font-size="15.7" fill="#089981" textLength="50.2" lengthAdjust="spacing" stroke="#089981" stroke-width="0.18">2,072.7</text>
<text x="363.9" y="58.6" font-size="15.7" fill="#131722" stroke="#131722" stroke-width="0.18">H</text>
<text x="374.9" y="58.6" font-size="15.7" fill="#089981" textLength="52.5" lengthAdjust="spacing" stroke="#089981" stroke-width="0.18">2,209.6</text>
<text x="437.1" y="58.6" font-size="15.7" fill="#131722" stroke="#131722" stroke-width="0.18">L</text>
<text x="445.7" y="58.6" font-size="15.7" fill="#089981" textLength="51.2" lengthAdjust="spacing" stroke="#089981" stroke-width="0.18">2,070.3</text>
<text x="506.2" y="58.6" font-size="15.7" fill="#131722" stroke="#131722" stroke-width="0.18">C</text>
<text x="517.3" y="58.6" font-size="15.7" fill="#089981" textLength="49.7" lengthAdjust="spacing" stroke="#089981" stroke-width="0.18">2,154.3</text>
<text x="577" y="58.6" font-size="15.7" fill="#089981" textLength="110" lengthAdjust="spacing" stroke="#089981" stroke-width="0.18">+80.5 (+3.88%)</text>
<rect x="12.5" y="33.5" width="2023.0" height="1050.0" fill="none" stroke="#eeeff2" stroke-width="1"/>
<path d="M12.5 886.5H2035.5" stroke="#e0e3eb" stroke-width="1.3"/>
<rect x="1950.5" y="38.3" width="81" height="31.6" rx="4" fill="#fff" stroke="#eceef2" stroke-width="1"/>
<text x="1962.3" y="59.0" font-size="14.9" fill="#131722" textLength="30" lengthAdjust="spacing" stroke="#131722" stroke-width="0.18">USD</text>
<text x="1957.8" y="95.2" font-size="15.3" fill="#131722" textLength="54.6" lengthAdjust="spacing" stroke="#131722" stroke-width="0.18">5,750.0</text>
<text x="1957.8" y="134.89999999999998" font-size="15.3" fill="#131722" textLength="54.6" lengthAdjust="spacing" stroke="#131722" stroke-width="0.18">5,350.0</text>
<text x="1957.8" y="177.7" font-size="15.3" fill="#131722" textLength="54.6" lengthAdjust="spacing" stroke="#131722" stroke-width="0.18">4,950.0</text>
<text x="1957.8" y="224.1" font-size="15.3" fill="#131722" textLength="54.6" lengthAdjust="spacing" stroke="#131722" stroke-width="0.18">4,550.0</text>
<text x="1957.8" y="274.8" font-size="15.3" fill="#131722" textLength="54.6" lengthAdjust="spacing" stroke="#131722" stroke-width="0.18">4,150.0</text>
<text x="1957.8" y="330.59999999999997" font-size="15.3" fill="#131722" textLength="54.6" lengthAdjust="spacing" stroke="#131722" stroke-width="0.18">3,750.0</text>
<text x="1957.8" y="392.8" font-size="15.3" fill="#131722" textLength="54.6" lengthAdjust="spacing" stroke="#131722" stroke-width="0.18">3,350.0</text>
<text x="1957.8" y="444.4" font-size="15.3" fill="#131722" textLength="54.6" lengthAdjust="spacing" stroke="#131722" stroke-width="0.18">3,050.0</text>
<text x="1957.8" y="501.5" font-size="15.3" fill="#131722" textLength="54.6" lengthAdjust="spacing" stroke="#131722" stroke-width="0.18">2,750.0</text>
<text x="1957.8" y="543.1" font-size="15.3" fill="#131722" textLength="54.6" lengthAdjust="spacing" stroke="#131722" stroke-width="0.18">2,550.0</text>
<text x="1957.8" y="588.0" font-size="15.3" fill="#131722" textLength="54.6" lengthAdjust="spacing" stroke="#131722" stroke-width="0.18">2,350.0</text>
<text x="1957.8" y="679.6" font-size="15.3" fill="#131722" textLength="54.6" lengthAdjust="spacing" stroke="#131722" stroke-width="0.18">1,990.0</text>
<text x="1957.8" y="725.8000000000001" font-size="15.3" fill="#131722" textLength="54.6" lengthAdjust="spacing" stroke="#131722" stroke-width="0.18">1,830.0</text>
<text x="1957.8" y="764.8000000000001" font-size="15.3" fill="#131722" textLength="54.6" lengthAdjust="spacing" stroke="#131722" stroke-width="0.18">1,705.0</text>
<text x="1957.8" y="805.0" font-size="15.3" fill="#131722" textLength="54.6" lengthAdjust="spacing" stroke="#131722" stroke-width="0.18">1,585.0</text>
<text x="1957.8" y="844.6" font-size="15.3" fill="#131722" textLength="54.6" lengthAdjust="spacing" stroke="#131722" stroke-width="0.18">1,475.0</text>
<text x="1957.8" y="883.3000000000001" font-size="15.3" fill="#131722" textLength="54.6" lengthAdjust="spacing" stroke="#131722" stroke-width="0.18">1,375.0</text>
<path d="M1946.5 467.2H2017.3a2 2 0 0 1 2 2V486.2a2 2 0 0 1-2 2H1946.5Z" fill="#434651"/>
<text x="1957.8" y="482.0" font-size="15.3" fill="#fff" textLength="54.6" lengthAdjust="spacing" stroke="#fff" stroke-width="0.18">2,850.0</text>
<path d="M1946.8 621.2H2027a2 2 0 0 1 2 2V657.6a2 2 0 0 1-2 2H1946.8Z" fill="#089981"/>
<text x="1957.8" y="635.8" font-size="15.3" fill="#fff" textLength="54.2" lengthAdjust="spacing" stroke="#fff" stroke-width="0.18">2,154.3</text>
<text x="1957.6" y="653.0" font-size="15.3" fill="rgba(255,255,255,0.78)" textLength="64" lengthAdjust="spacing" stroke="rgba(255,255,255,0.78)" stroke-width="0.18">09:05:00</text>
<rect x="12.5" y="932.6" width="1933.5" height="86.8" fill="rgba(126,87,194,0.10)"/>
<path d="M12.5 932.6H1946.0M12.5 1019.4H1946.0" stroke="#5d606b" stroke-width="1.15" stroke-dasharray="4.2 4.34"/>
<path d="M12.5 976.2H1946.0" stroke="#d3d4db" stroke-width="1.15" stroke-dasharray="4.2 4.34"/>
<g clip-path="url(#cpOB)"><path d="M12.5 981.3L16.1 976.3L20.8 1003.2L24.9 1005.4L29.9 1015.3L34.9 1017.5L38.6 1021.5L43.2 1022.5L47.4 987.1L52.0 1009.2L57.3 1007.0L61.0 1000.4L66.4 1002.9L71.1 1006.2L75.1 999.9L79.7 1010.3L84.4 1018.6L88.9 1012.3L93.0 1012.8L98.0 1015.3L102.6 1009.2L107.1 1006.7L112.1 1009.8L116.3 1004.5L120.9 1003.7L124.6 988.4L129.5 994.6L134.5 996.7L139.5 993.7L142.8 990.4L147.8 980.8L151.9 982.9L156.9 988.8L161.4 989.9L165.2 1001.2L170.2 1007.9L175.2 1010.3L179.3 1007.0L184.3 992.9L189.0 1004.2L193.4 1000.9L198.4 1000.9L202.9 1002.0L206.4 1022.5L211.7 1025.0L215.9 1030.3L220.5 998.7L225.5 1010.3L229.5 1002.9L234.1 994.1L238.8 998.2L242.8 994.6L248.2 997.9L253.2 999.2L257.4 997.9L262.0 997.1L266.5 992.9L271.5 996.2L275.6 997.1L280.3 967.5L283.9 963.0L288.9 967.5L293.1 965.2L297.5 960.5L302.5 965.9L307.2 964.4L311.3 964.7L316.3 965.9L319.6 958.0L324.6 956.7L329.6 958.9L333.7 965.2L337.9 963.0L340.0 964.4L343.3 964.4L347.5 965.9L352.5 915.2L356.6 908.2L361.1 897.9L365.7 910.2L370.7 914.1L374.9 906.3L379.8 917.4L384.8 926.5L389.0 929.5L393.5 938.5L398.1 936.5L402.8 934.0L407.2 935.1L411.1 932.8L416.4 924.5L421.0 947.8L424.7 947.3L429.6 945.3L434.6 943.9L438.8 934.8L443.3 933.1L448.2 942.3L452.6 959.7L457.0 960.5L462.0 959.2L466.2 950.6L471.2 953.1L476.1 951.4L479.8 982.6L484.4 973.8L488.6 967.2L493.1 969.7L497.7 950.6L502.2 938.5L506.8 945.6L511.8 963.0L516.0 971.0L521.0 976.3L525.6 974.6L530.1 976.6L534.6 980.0L539.2 977.5L543.4 978.3L547.5 989.9L552.2 1001.2L556.7 1011.5L562.1 983.8L566.1 980.0L570.8 983.3L575.4 983.3L579.9 982.1L584.0 980.1L589.0 970.8L593.2 973.0L597.8 984.3L602.8 962.2L607.0 960.0L611.9 972.2L616.4 971.0L620.6 963.9L625.2 968.3L630.2 958.5L634.7 941.4L638.8 929.0L643.8 928.2L648.0 931.2L652.1 929.0L656.8 925.3L661.2 917.4L666.2 906.9L670.4 902.4L675.4 900.3L680.0 899.1L684.2 894.6L688.3 894.1L693.6 897.0L697.9 917.9L702.4 914.9L707.4 913.6L711.5 912.9L716.5 907.4L721.5 919.9L725.7 920.4L729.8 919.9L734.5 935.6L738.4 966.3L743.6 977.1L748.1 963.0L752.5 949.7L757.2 961.0L761.3 955.6L766.0 942.3L770.5 935.6L774.6 924.8L779.6 926.2L784.6 929.0L788.7 915.2L793.7 910.7L798.2 927.8L802.5 939.5L807.0 941.4L812.0 939.0L816.5 954.7L821.1 971.0L825.8 956.9L829.9 964.4L834.4 939.5L839.0 942.3L843.5 942.3L848.5 966.7L852.2 957.7L857.3 962.2L861.8 962.5L866.3 971.0L870.9 970.2L875.9 969.3L880.0 974.3L884.5 973.5L889.5 965.9L893.7 976.0L898.3 975.5L903.0 978.0L907.4 975.5L912.4 975.5L916.6 975.1L921.1 970.5L925.7 961.7L929.5 945.1L934.0 948.9L939.0 955.6L943.6 964.2L947.6 966.3L952.8 959.4L956.9 959.7L961.7 971.3L966.4 970.8L970.5 974.6L975.5 996.6L980.2 998.7L984.1 999.9L989.1 1017.8L993.8 1000.7L997.9 1000.4L1002.9 988.3L1007.4 981.8L1011.7 987.1L1016.2 971.3L1020.0 960.5L1025.0 958.0L1030.3 960.5L1034.1 958.0L1038.8 946.8L1043.7 968.8L1047.4 963.9L1052.4 975.5L1057.4 1006.2L1061.5 1009.8L1066.5 982.9L1071.5 978.3L1075.6 984.6L1079.8 990.4L1084.4 994.6L1088.9 998.2L1093.9 993.7L1098.9 987.4L1102.2 987.9L1106.7 992.9L1111.3 997.6L1116.3 992.9L1120.9 986.6L1124.9 984.6L1129.9 969.3L1134.9 972.2L1138.7 982.9L1143.7 988.8L1148.7 994.6L1152.8 990.9L1157.5 988.3L1162.3 985.1L1166.4 1006.2L1171.1 1020.3L1175.7 1007.9L1179.7 1012.8L1184.7 1002.5L1188.8 1003.7L1193.5 989.6L1198.0 989.9L1202.3 999.6L1206.8 998.7L1211.7 1008.7L1216.2 1014.5L1220.9 1009.2L1225.4 1012.5L1229.7 1015.8L1234.2 1006.7L1239.1 1012.0L1243.3 1020.6L1248.3 1023.6L1253.3 1022.8L1257.1 1019.1L1261.9 1002.9L1266.5 1002.0L1270.7 994.6L1275.3 995.4L1279.5 993.7L1284.8 997.1L1289.3 996.7L1293.1 1012.0L1298.1 989.3L1303.1 971.3L1307.5 977.1L1312.2 985.1L1317.2 983.4L1321.3 980.8L1325.5 975.5L1330.1 958.5L1334.3 958.0L1340.0 968.8L1344.2 981.3L1348.3 978.8L1352.9 983.8L1357.4 991.3L1361.6 992.1L1366.6 1002.4L1370.4 1002.9L1374.9 984.6L1379.8 984.9L1384.5 981.8L1388.5 981.3L1393.1 986.3L1398.1 989.1L1402.8 993.2L1407.2 989.6L1411.4 985.8L1416.0 985.4L1421.0 987.4L1425.2 981.3L1429.6 982.1L1434.6 975.8L1438.8 956.4L1443.8 956.4L1448.2 953.6L1452.9 942.3L1457.9 934.8L1461.7 960.5L1466.2 970.2L1471.2 973.0L1475.3 973.8L1479.8 968.0L1484.9 972.5L1488.6 943.1L1493.6 940.6L1498.0 946.4L1502.7 951.7L1507.3 949.7L1512.7 954.7L1516.8 972.2L1521.0 1001.7L1525.9 995.1L1530.1 998.4L1535.1 997.9L1539.7 998.7L1543.9 1012.0L1548.4 995.9L1552.5 980.5L1557.1 982.1L1561.6 997.9L1566.6 1010.3L1571.6 1026.1L1576.1 1033.9L1579.9 1024.5L1584.4 1028.6L1589.0 1031.9L1593.5 1043.0L1598.5 1018.6L1602.3 1016.7L1607.3 1015.3L1611.9 1014.0L1616.4 1017.8L1621.4 1022.5L1625.5 1021.5L1630.2 1008.7L1634.7 1004.5L1639.7 1012.5L1643.8 1008.2L1648.8 1008.7L1652.9 1011.2L1657.4 1012.0L1662.1 1008.7L1667.1 1007.9L1671.2 1009.8L1675.4 1018.1L1681.4 1018.0L1684.1 986.4L1689.5 989.1L1693.2 999.0L1698.0 993.6L1702.8 996.3L1707.4 985.1L1711.9 988.3L1716.2 970.9L1721.6 978.4L1726.9 987.2L1734.9 991.0L1743.5 978.4L1752.9 972.2L1757.7 962.3L1757.7 932.6L12.5 932.6Z" fill="url(#gob)"/></g>
<g clip-path="url(#cpOS)"><path d="M12.5 981.3L16.1 976.3L20.8 1003.2L24.9 1005.4L29.9 1015.3L34.9 1017.5L38.6 1021.5L43.2 1022.5L47.4 987.1L52.0 1009.2L57.3 1007.0L61.0 1000.4L66.4 1002.9L71.1 1006.2L75.1 999.9L79.7 1010.3L84.4 1018.6L88.9 1012.3L93.0 1012.8L98.0 1015.3L102.6 1009.2L107.1 1006.7L112.1 1009.8L116.3 1004.5L120.9 1003.7L124.6 988.4L129.5 994.6L134.5 996.7L139.5 993.7L142.8 990.4L147.8 980.8L151.9 982.9L156.9 988.8L161.4 989.9L165.2 1001.2L170.2 1007.9L175.2 1010.3L179.3 1007.0L184.3 992.9L189.0 1004.2L193.4 1000.9L198.4 1000.9L202.9 1002.0L206.4 1022.5L211.7 1025.0L215.9 1030.3L220.5 998.7L225.5 1010.3L229.5 1002.9L234.1 994.1L238.8 998.2L242.8 994.6L248.2 997.9L253.2 999.2L257.4 997.9L262.0 997.1L266.5 992.9L271.5 996.2L275.6 997.1L280.3 967.5L283.9 963.0L288.9 967.5L293.1 965.2L297.5 960.5L302.5 965.9L307.2 964.4L311.3 964.7L316.3 965.9L319.6 958.0L324.6 956.7L329.6 958.9L333.7 965.2L337.9 963.0L340.0 964.4L343.3 964.4L347.5 965.9L352.5 915.2L356.6 908.2L361.1 897.9L365.7 910.2L370.7 914.1L374.9 906.3L379.8 917.4L384.8 926.5L389.0 929.5L393.5 938.5L398.1 936.5L402.8 934.0L407.2 935.1L411.1 932.8L416.4 924.5L421.0 947.8L424.7 947.3L429.6 945.3L434.6 943.9L438.8 934.8L443.3 933.1L448.2 942.3L452.6 959.7L457.0 960.5L462.0 959.2L466.2 950.6L471.2 953.1L476.1 951.4L479.8 982.6L484.4 973.8L488.6 967.2L493.1 969.7L497.7 950.6L502.2 938.5L506.8 945.6L511.8 963.0L516.0 971.0L521.0 976.3L525.6 974.6L530.1 976.6L534.6 980.0L539.2 977.5L543.4 978.3L547.5 989.9L552.2 1001.2L556.7 1011.5L562.1 983.8L566.1 980.0L570.8 983.3L575.4 983.3L579.9 982.1L584.0 980.1L589.0 970.8L593.2 973.0L597.8 984.3L602.8 962.2L607.0 960.0L611.9 972.2L616.4 971.0L620.6 963.9L625.2 968.3L630.2 958.5L634.7 941.4L638.8 929.0L643.8 928.2L648.0 931.2L652.1 929.0L656.8 925.3L661.2 917.4L666.2 906.9L670.4 902.4L675.4 900.3L680.0 899.1L684.2 894.6L688.3 894.1L693.6 897.0L697.9 917.9L702.4 914.9L707.4 913.6L711.5 912.9L716.5 907.4L721.5 919.9L725.7 920.4L729.8 919.9L734.5 935.6L738.4 966.3L743.6 977.1L748.1 963.0L752.5 949.7L757.2 961.0L761.3 955.6L766.0 942.3L770.5 935.6L774.6 924.8L779.6 926.2L784.6 929.0L788.7 915.2L793.7 910.7L798.2 927.8L802.5 939.5L807.0 941.4L812.0 939.0L816.5 954.7L821.1 971.0L825.8 956.9L829.9 964.4L834.4 939.5L839.0 942.3L843.5 942.3L848.5 966.7L852.2 957.7L857.3 962.2L861.8 962.5L866.3 971.0L870.9 970.2L875.9 969.3L880.0 974.3L884.5 973.5L889.5 965.9L893.7 976.0L898.3 975.5L903.0 978.0L907.4 975.5L912.4 975.5L916.6 975.1L921.1 970.5L925.7 961.7L929.5 945.1L934.0 948.9L939.0 955.6L943.6 964.2L947.6 966.3L952.8 959.4L956.9 959.7L961.7 971.3L966.4 970.8L970.5 974.6L975.5 996.6L980.2 998.7L984.1 999.9L989.1 1017.8L993.8 1000.7L997.9 1000.4L1002.9 988.3L1007.4 981.8L1011.7 987.1L1016.2 971.3L1020.0 960.5L1025.0 958.0L1030.3 960.5L1034.1 958.0L1038.8 946.8L1043.7 968.8L1047.4 963.9L1052.4 975.5L1057.4 1006.2L1061.5 1009.8L1066.5 982.9L1071.5 978.3L1075.6 984.6L1079.8 990.4L1084.4 994.6L1088.9 998.2L1093.9 993.7L1098.9 987.4L1102.2 987.9L1106.7 992.9L1111.3 997.6L1116.3 992.9L1120.9 986.6L1124.9 984.6L1129.9 969.3L1134.9 972.2L1138.7 982.9L1143.7 988.8L1148.7 994.6L1152.8 990.9L1157.5 988.3L1162.3 985.1L1166.4 1006.2L1171.1 1020.3L1175.7 1007.9L1179.7 1012.8L1184.7 1002.5L1188.8 1003.7L1193.5 989.6L1198.0 989.9L1202.3 999.6L1206.8 998.7L1211.7 1008.7L1216.2 1014.5L1220.9 1009.2L1225.4 1012.5L1229.7 1015.8L1234.2 1006.7L1239.1 1012.0L1243.3 1020.6L1248.3 1023.6L1253.3 1022.8L1257.1 1019.1L1261.9 1002.9L1266.5 1002.0L1270.7 994.6L1275.3 995.4L1279.5 993.7L1284.8 997.1L1289.3 996.7L1293.1 1012.0L1298.1 989.3L1303.1 971.3L1307.5 977.1L1312.2 985.1L1317.2 983.4L1321.3 980.8L1325.5 975.5L1330.1 958.5L1334.3 958.0L1340.0 968.8L1344.2 981.3L1348.3 978.8L1352.9 983.8L1357.4 991.3L1361.6 992.1L1366.6 1002.4L1370.4 1002.9L1374.9 984.6L1379.8 984.9L1384.5 981.8L1388.5 981.3L1393.1 986.3L1398.1 989.1L1402.8 993.2L1407.2 989.6L1411.4 985.8L1416.0 985.4L1421.0 987.4L1425.2 981.3L1429.6 982.1L1434.6 975.8L1438.8 956.4L1443.8 956.4L1448.2 953.6L1452.9 942.3L1457.9 934.8L1461.7 960.5L1466.2 970.2L1471.2 973.0L1475.3 973.8L1479.8 968.0L1484.9 972.5L1488.6 943.1L1493.6 940.6L1498.0 946.4L1502.7 951.7L1507.3 949.7L1512.7 954.7L1516.8 972.2L1521.0 1001.7L1525.9 995.1L1530.1 998.4L1535.1 997.9L1539.7 998.7L1543.9 1012.0L1548.4 995.9L1552.5 980.5L1557.1 982.1L1561.6 997.9L1566.6 1010.3L1571.6 1026.1L1576.1 1033.9L1579.9 1024.5L1584.4 1028.6L1589.0 1031.9L1593.5 1043.0L1598.5 1018.6L1602.3 1016.7L1607.3 1015.3L1611.9 1014.0L1616.4 1017.8L1621.4 1022.5L1625.5 1021.5L1630.2 1008.7L1634.7 1004.5L1639.7 1012.5L1643.8 1008.2L1648.8 1008.7L1652.9 1011.2L1657.4 1012.0L1662.1 1008.7L1667.1 1007.9L1671.2 1009.8L1675.4 1018.1L1681.4 1018.0L1684.1 986.4L1689.5 989.1L1693.2 999.0L1698.0 993.6L1702.8 996.3L1707.4 985.1L1711.9 988.3L1716.2 970.9L1721.6 978.4L1726.9 987.2L1734.9 991.0L1743.5 978.4L1752.9 972.2L1757.7 962.3L1757.7 1019.4L12.5 1019.4Z" fill="url(#gos)"/></g>
<path d="M12.5 998.7L18.3 995.9L24.9 994.9L34.9 997.9L43.2 1000.7L51.5 1001.2L59.8 1002.5L68.1 1004.5L76.4 1007.0L84.7 1008.7L93.0 1009.2L101.3 1008.2L109.6 1008.2L117.9 1008.2L126.2 1007.4L134.5 1006.2L142.8 1004.2L151.1 999.6L159.4 996.2L164.4 995.1L176.0 995.4L184.3 994.6L192.6 996.2L202.6 997.4L209.2 1001.2L215.9 1006.2L222.5 1007.9L229.1 1008.4L235.8 1007.4L242.4 1005.9L250.7 1005.7L259.0 1004.9L267.3 1003.7L275.6 999.9L283.9 993.7L292.2 988.8L300.5 983.8L308.8 979.6L317.1 974.6L325.4 969.7L333.7 965.5L340.0 963.0L346.6 963.0L354.9 957.2L361.6 950.6L369.9 943.9L376.5 937.8L383.2 934.0L389.8 931.5L398.1 927.3L406.4 924.0L411.4 921.5L416.4 922.4L421.3 925.7L426.3 929.5L433.0 932.8L439.6 935.3L446.3 937.3L452.9 940.6L459.5 942.3L467.8 944.8L475.3 946.8L481.1 951.4L489.4 954.7L494.4 956.4L502.7 956.9L509.3 958.0L516.0 959.7L522.6 961.4L530.9 964.4L539.2 967.5L544.2 967.2L550.8 970.0L557.5 974.2L564.1 978.0L570.8 982.1L577.4 984.1L584.0 984.9L592.3 984.6L599.0 984.6L605.6 982.9L613.9 979.6L622.2 974.6L630.5 972.2L638.8 966.8L647.1 960.0L655.4 953.1L663.7 945.6L672.0 936.5L680.0 929.0L686.6 920.7L694.9 913.2L703.2 910.7L711.5 908.2L716.5 906.6L723.2 906.6L729.8 908.2L736.4 912.4L743.1 920.7L749.7 928.2L758.0 935.6L766.3 939.8L774.6 942.3L782.9 943.6L791.2 943.1L799.5 941.9L806.2 938.1L812.8 935.6L821.1 936.5L829.4 938.1L837.7 939.8L846.0 942.3L854.3 948.9L862.6 953.4L870.9 957.5L879.2 960.9L887.5 961.4L894.2 963.0L900.8 966.7L907.4 970.0L914.1 971.3L920.7 972.7L925.7 972.2L932.3 969.7L940.6 968.0L948.9 966.7L958.9 965.0L968.9 964.4L977.2 965.9L985.5 970.0L992.1 975.5L998.8 981.0L1005.4 984.1L1012.0 986.3L1020.0 987.1L1030.0 985.1L1038.3 980.8L1044.9 978.0L1052.4 973.0L1061.5 974.2L1069.8 973.3L1076.4 973.3L1083.1 976.0L1089.7 980.1L1098.0 984.1L1106.3 989.1L1114.6 992.6L1122.9 990.1L1131.2 988.8L1139.5 988.3L1147.8 987.9L1156.1 987.1L1162.8 986.6L1169.4 989.1L1177.7 991.3L1186.0 993.7L1194.3 996.2L1202.6 998.4L1210.9 1000.0L1219.2 1002.9L1229.2 1006.2L1235.8 1005.0L1242.5 1005.7L1249.1 1007.9L1255.7 1010.3L1260.7 1012.0L1267.4 1012.3L1274.0 1011.5L1280.6 1009.2L1288.9 1007.5L1295.6 1006.2L1302.2 1003.2L1308.9 999.1L1315.5 995.4L1322.1 991.3L1328.8 987.9L1335.4 984.1L1340.0 981.3L1348.3 979.1L1356.6 976.6L1361.6 976.8L1369.9 981.0L1378.2 981.3L1388.1 982.1L1394.8 985.1L1403.1 988.3L1411.4 989.6L1419.7 989.6L1426.3 988.3L1433.0 985.9L1439.6 982.9L1447.9 979.6L1456.2 973.8L1462.9 970.0L1471.2 967.5L1479.5 965.5L1486.1 963.9L1492.7 959.7L1499.4 956.7L1506.0 955.9L1511.0 956.1L1516.0 958.9L1521.0 963.0L1527.6 966.3L1534.2 968.8L1539.2 970.8L1544.2 974.2L1549.2 976.3L1555.8 981.0L1562.5 986.3L1569.1 993.7L1575.7 1000.7L1580.7 1004.2L1587.4 1007.4L1592.3 1011.2L1599.0 1014.0L1605.6 1015.0L1612.3 1016.2L1617.2 1018.6L1622.2 1022.5L1628.9 1023.3L1635.5 1021.5L1643.8 1018.3L1652.1 1015.3L1658.8 1013.2L1667.1 1012.3L1675.4 1012.5L1692.7 1006.5L1703.4 1003.8L1714.1 998.4L1724.8 993.6L1735.5 989.9L1746.2 985.6L1757.7 982.4" stroke="#fdd835" stroke-width="1.5" fill="none" stroke-linejoin="round"/>
<path d="M12.5 981.3L16.1 976.3L20.8 1003.2L24.9 1005.4L29.9 1015.3L34.9 1017.5L38.6 1021.5L43.2 1022.5L47.4 987.1L52.0 1009.2L57.3 1007.0L61.0 1000.4L66.4 1002.9L71.1 1006.2L75.1 999.9L79.7 1010.3L84.4 1018.6L88.9 1012.3L93.0 1012.8L98.0 1015.3L102.6 1009.2L107.1 1006.7L112.1 1009.8L116.3 1004.5L120.9 1003.7L124.6 988.4L129.5 994.6L134.5 996.7L139.5 993.7L142.8 990.4L147.8 980.8L151.9 982.9L156.9 988.8L161.4 989.9L165.2 1001.2L170.2 1007.9L175.2 1010.3L179.3 1007.0L184.3 992.9L189.0 1004.2L193.4 1000.9L198.4 1000.9L202.9 1002.0L206.4 1022.5L211.7 1025.0L215.9 1030.3L220.5 998.7L225.5 1010.3L229.5 1002.9L234.1 994.1L238.8 998.2L242.8 994.6L248.2 997.9L253.2 999.2L257.4 997.9L262.0 997.1L266.5 992.9L271.5 996.2L275.6 997.1L280.3 967.5L283.9 963.0L288.9 967.5L293.1 965.2L297.5 960.5L302.5 965.9L307.2 964.4L311.3 964.7L316.3 965.9L319.6 958.0L324.6 956.7L329.6 958.9L333.7 965.2L337.9 963.0L340.0 964.4L343.3 964.4L347.5 965.9L352.5 915.2L356.6 908.2L361.1 897.9L365.7 910.2L370.7 914.1L374.9 906.3L379.8 917.4L384.8 926.5L389.0 929.5L393.5 938.5L398.1 936.5L402.8 934.0L407.2 935.1L411.1 932.8L416.4 924.5L421.0 947.8L424.7 947.3L429.6 945.3L434.6 943.9L438.8 934.8L443.3 933.1L448.2 942.3L452.6 959.7L457.0 960.5L462.0 959.2L466.2 950.6L471.2 953.1L476.1 951.4L479.8 982.6L484.4 973.8L488.6 967.2L493.1 969.7L497.7 950.6L502.2 938.5L506.8 945.6L511.8 963.0L516.0 971.0L521.0 976.3L525.6 974.6L530.1 976.6L534.6 980.0L539.2 977.5L543.4 978.3L547.5 989.9L552.2 1001.2L556.7 1011.5L562.1 983.8L566.1 980.0L570.8 983.3L575.4 983.3L579.9 982.1L584.0 980.1L589.0 970.8L593.2 973.0L597.8 984.3L602.8 962.2L607.0 960.0L611.9 972.2L616.4 971.0L620.6 963.9L625.2 968.3L630.2 958.5L634.7 941.4L638.8 929.0L643.8 928.2L648.0 931.2L652.1 929.0L656.8 925.3L661.2 917.4L666.2 906.9L670.4 902.4L675.4 900.3L680.0 899.1L684.2 894.6L688.3 894.1L693.6 897.0L697.9 917.9L702.4 914.9L707.4 913.6L711.5 912.9L716.5 907.4L721.5 919.9L725.7 920.4L729.8 919.9L734.5 935.6L738.4 966.3L743.6 977.1L748.1 963.0L752.5 949.7L757.2 961.0L761.3 955.6L766.0 942.3L770.5 935.6L774.6 924.8L779.6 926.2L784.6 929.0L788.7 915.2L793.7 910.7L798.2 927.8L802.5 939.5L807.0 941.4L812.0 939.0L816.5 954.7L821.1 971.0L825.8 956.9L829.9 964.4L834.4 939.5L839.0 942.3L843.5 942.3L848.5 966.7L852.2 957.7L857.3 962.2L861.8 962.5L866.3 971.0L870.9 970.2L875.9 969.3L880.0 974.3L884.5 973.5L889.5 965.9L893.7 976.0L898.3 975.5L903.0 978.0L907.4 975.5L912.4 975.5L916.6 975.1L921.1 970.5L925.7 961.7L929.5 945.1L934.0 948.9L939.0 955.6L943.6 964.2L947.6 966.3L952.8 959.4L956.9 959.7L961.7 971.3L966.4 970.8L970.5 974.6L975.5 996.6L980.2 998.7L984.1 999.9L989.1 1017.8L993.8 1000.7L997.9 1000.4L1002.9 988.3L1007.4 981.8L1011.7 987.1L1016.2 971.3L1020.0 960.5L1025.0 958.0L1030.3 960.5L1034.1 958.0L1038.8 946.8L1043.7 968.8L1047.4 963.9L1052.4 975.5L1057.4 1006.2L1061.5 1009.8L1066.5 982.9L1071.5 978.3L1075.6 984.6L1079.8 990.4L1084.4 994.6L1088.9 998.2L1093.9 993.7L1098.9 987.4L1102.2 987.9L1106.7 992.9L1111.3 997.6L1116.3 992.9L1120.9 986.6L1124.9 984.6L1129.9 969.3L1134.9 972.2L1138.7 982.9L1143.7 988.8L1148.7 994.6L1152.8 990.9L1157.5 988.3L1162.3 985.1L1166.4 1006.2L1171.1 1020.3L1175.7 1007.9L1179.7 1012.8L1184.7 1002.5L1188.8 1003.7L1193.5 989.6L1198.0 989.9L1202.3 999.6L1206.8 998.7L1211.7 1008.7L1216.2 1014.5L1220.9 1009.2L1225.4 1012.5L1229.7 1015.8L1234.2 1006.7L1239.1 1012.0L1243.3 1020.6L1248.3 1023.6L1253.3 1022.8L1257.1 1019.1L1261.9 1002.9L1266.5 1002.0L1270.7 994.6L1275.3 995.4L1279.5 993.7L1284.8 997.1L1289.3 996.7L1293.1 1012.0L1298.1 989.3L1303.1 971.3L1307.5 977.1L1312.2 985.1L1317.2 983.4L1321.3 980.8L1325.5 975.5L1330.1 958.5L1334.3 958.0L1340.0 968.8L1344.2 981.3L1348.3 978.8L1352.9 983.8L1357.4 991.3L1361.6 992.1L1366.6 1002.4L1370.4 1002.9L1374.9 984.6L1379.8 984.9L1384.5 981.8L1388.5 981.3L1393.1 986.3L1398.1 989.1L1402.8 993.2L1407.2 989.6L1411.4 985.8L1416.0 985.4L1421.0 987.4L1425.2 981.3L1429.6 982.1L1434.6 975.8L1438.8 956.4L1443.8 956.4L1448.2 953.6L1452.9 942.3L1457.9 934.8L1461.7 960.5L1466.2 970.2L1471.2 973.0L1475.3 973.8L1479.8 968.0L1484.9 972.5L1488.6 943.1L1493.6 940.6L1498.0 946.4L1502.7 951.7L1507.3 949.7L1512.7 954.7L1516.8 972.2L1521.0 1001.7L1525.9 995.1L1530.1 998.4L1535.1 997.9L1539.7 998.7L1543.9 1012.0L1548.4 995.9L1552.5 980.5L1557.1 982.1L1561.6 997.9L1566.6 1010.3L1571.6 1026.1L1576.1 1033.9L1579.9 1024.5L1584.4 1028.6L1589.0 1031.9L1593.5 1043.0L1598.5 1018.6L1602.3 1016.7L1607.3 1015.3L1611.9 1014.0L1616.4 1017.8L1621.4 1022.5L1625.5 1021.5L1630.2 1008.7L1634.7 1004.5L1639.7 1012.5L1643.8 1008.2L1648.8 1008.7L1652.9 1011.2L1657.4 1012.0L1662.1 1008.7L1667.1 1007.9L1671.2 1009.8L1675.4 1018.1L1681.4 1018.0L1684.1 986.4L1689.5 989.1L1693.2 999.0L1698.0 993.6L1702.8 996.3L1707.4 985.1L1711.9 988.3L1716.2 970.9L1721.6 978.4L1726.9 987.2L1734.9 991.0L1743.5 978.4L1752.9 972.2L1757.7 962.3" stroke="#7e57c2" stroke-width="1.35" fill="none" stroke-linejoin="round"/>
<path d="M1589 1046.8L1789.5 964.8" stroke="#2962ff" stroke-width="3.4" stroke-linecap="round"/>
<text x="23" y="911.7" font-size="15.1" fill="#131722" textLength="99.6" lengthAdjust="spacing" stroke="#131722" stroke-width="0.18">RSI (14, close)</text>
<text x="132.6" y="911.7" font-size="15.1" fill="#7e57c2" textLength="39.3" lengthAdjust="spacing" stroke="#7e57c2" stroke-width="0.18">56.04</text>
<text x="181.9" y="911.7" font-size="15.1" fill="#f5cc2a" textLength="40.4" lengthAdjust="spacing" stroke="#f5cc2a" stroke-width="0.18">46.83</text>
<text x="1957.6" y="915.3000000000001" font-size="15.3" fill="#131722" textLength="40.7" lengthAdjust="spacing" stroke="#131722" stroke-width="0.18">80.00</text>
<text x="1957.6" y="959.0" font-size="15.3" fill="#131722" textLength="40.7" lengthAdjust="spacing" stroke="#131722" stroke-width="0.18">60.00</text>
<text x="1957.6" y="1002.5" font-size="15.3" fill="#131722" textLength="40.7" lengthAdjust="spacing" stroke="#131722" stroke-width="0.18">40.00</text>
<text x="1957.6" y="1046.0" font-size="15.3" fill="#131722" textLength="40.7" lengthAdjust="spacing" stroke="#131722" stroke-width="0.18">20.00</text>
<path d="M1946.8 952.2H2003.2a2 2 0 0 1 2 2V971a2 2 0 0 1-2 2H1946.8Z" fill="#7e57c2"/>
<text x="1957.6" y="967.7" font-size="15.0" fill="rgba(255,255,255,0.92)" textLength="40.7" lengthAdjust="spacing" stroke="rgba(255,255,255,0.92)" stroke-width="0.18">56.04</text>
<path d="M1946.8 973.2H2003.2a2 2 0 0 1 2 2V992a2 2 0 0 1-2 2H1946.8Z" fill="#fdd835"/>
<text x="1957.6" y="988.4" font-size="15.0" fill="#0b0e14" textLength="40.7" lengthAdjust="spacing" stroke="#0b0e14" stroke-width="0.18">46.83</text>
<text x="44" y="1072.3" font-size="14.8" fill="#131722" text-anchor="middle" stroke="#131722" stroke-width="0.18">Mar</text>
<text x="184.5" y="1072.3" font-size="14.8" fill="#131722" text-anchor="middle" stroke="#131722" stroke-width="0.18">Apr</text>
<text x="321.5" y="1072.3" font-size="14.8" fill="#131722" text-anchor="middle" stroke="#131722" stroke-width="0.18">May</text>
<text x="462" y="1072.3" font-size="14.8" fill="#131722" text-anchor="middle" stroke="#131722" stroke-width="0.18">Jun</text>
<text x="598.5" y="1072.3" font-size="14.8" fill="#131722" text-anchor="middle" stroke="#131722" stroke-width="0.18">Jul</text>
<text x="739.5" y="1072.3" font-size="14.8" fill="#131722" text-anchor="middle" stroke="#131722" stroke-width="0.18">Aug</text>
<text x="880.5" y="1072.3" font-size="14.8" fill="#131722" text-anchor="middle" stroke="#131722" stroke-width="0.18">Sep</text>
<text x="1016.5" y="1072.3" font-size="14.8" fill="#131722" text-anchor="middle" stroke="#131722" stroke-width="0.18">Oct</text>
<text x="1157.5" y="1072.3" font-size="14.8" fill="#131722" text-anchor="middle" stroke="#131722" stroke-width="0.18">Nov</text>
<text x="1294" y="1072.3" font-size="14.8" fill="#131722" text-anchor="middle" stroke="#131722" stroke-width="0.18">Dec</text>
<text x="1415.7" y="1072.3" font-size="14.8" fill="#131722" font-weight="bold" textLength="38.6" lengthAdjust="spacing" stroke="#131722" stroke-width="0.22">2026</text>
<text x="1575.5" y="1072.3" font-size="14.8" fill="#131722" text-anchor="middle" stroke="#131722" stroke-width="0.18">Feb</text>
<text x="1703" y="1072.3" font-size="14.8" fill="#131722" text-anchor="middle" stroke="#131722" stroke-width="0.18">Mar</text>
<text x="1844.5" y="1072.3" font-size="14.8" fill="#131722" text-anchor="middle" stroke="#131722" stroke-width="0.18">Apr</text>
<g transform="translate(1780.9 870)"><circle r="12.3" fill="#fff" stroke="#f23645" stroke-width="1.8"/><g clip-path="url(#flagclip)"><rect x="-10.2" y="-10.2" width="20.4" height="20.4" fill="#f5f7fb"/><rect x="-10.2" y="-10.2" width="20.4" height="4.38" fill="#ef5350"/><rect x="-10.2" y="-2.04" width="20.4" height="4.08" fill="#ef5350"/><rect x="-10.2" y="5.72" width="20.4" height="4.48" fill="#ef5350"/><rect x="-10.2" y="-10.2" width="12.8" height="12.3" fill="#1e88e5"/><path d="M-8.35 -7.6H-6.45M-7.4 -8.549999999999999V-6.6499999999999995" stroke="#fff" stroke-width="0.9"/><path d="M-8.35 -4.5H-6.45M-7.4 -5.45V-3.55" stroke="#fff" stroke-width="0.9"/><path d="M-8.35 -1.4H-6.45M-7.4 -2.3499999999999996V-0.44999999999999996" stroke="#fff" stroke-width="0.9"/><path d="M-5.05 -7.6H-3.1499999999999995M-4.1 -8.549999999999999V-6.6499999999999995" stroke="#fff" stroke-width="0.9"/><path d="M-5.05 -4.5H-3.1499999999999995M-4.1 -5.45V-3.55" stroke="#fff" stroke-width="0.9"/><path d="M-5.05 -1.4H-3.1499999999999995M-4.1 -2.3499999999999996V-0.44999999999999996" stroke="#fff" stroke-width="0.9"/><path d="M-1.75 -7.6H0.1499999999999999M-0.8 -8.549999999999999V-6.6499999999999995" stroke="#fff" stroke-width="0.9"/><path d="M-1.75 -4.5H0.1499999999999999M-0.8 -5.45V-3.55" stroke="#fff" stroke-width="0.9"/><path d="M-1.75 -1.4H0.1499999999999999M-0.8 -2.3499999999999996V-0.44999999999999996" stroke="#fff" stroke-width="0.9"/></g></g>
<g transform="translate(1756.9 870)"><circle r="12.3" fill="#fff" stroke="#f23645" stroke-width="1.8"/><g clip-path="url(#flagclip)"><rect x="-10.2" y="-10.2" width="20.4" height="20.4" fill="#f5f7fb"/><rect x="-10.2" y="-10.2" width="20.4" height="4.38" fill="#ef5350"/><rect x="-10.2" y="-2.04" width="20.4" height="4.08" fill="#ef5350"/><rect x="-10.2" y="5.72" width="20.4" height="4.48" fill="#ef5350"/><rect x="-10.2" y="-10.2" width="12.8" height="12.3" fill="#1e88e5"/><path d="M-8.35 -7.6H-6.45M-7.4 -8.549999999999999V-6.6499999999999995" stroke="#fff" stroke-width="0.9"/><path d="M-8.35 -4.5H-6.45M-7.4 -5.45V-3.55" stroke="#fff" stroke-width="0.9"/><path d="M-8.35 -1.4H-6.45M-7.4 -2.3499999999999996V-0.44999999999999996" stroke="#fff" stroke-width="0.9"/><path d="M-5.05 -7.6H-3.1499999999999995M-4.1 -8.549999999999999V-6.6499999999999995" stroke="#fff" stroke-width="0.9"/><path d="M-5.05 -4.5H-3.1499999999999995M-4.1 -5.45V-3.55" stroke="#fff" stroke-width="0.9"/><path d="M-5.05 -1.4H-3.1499999999999995M-4.1 -2.3499999999999996V-0.44999999999999996" stroke="#fff" stroke-width="0.9"/><path d="M-1.75 -7.6H0.1499999999999999M-0.8 -8.549999999999999V-6.6499999999999995" stroke="#fff" stroke-width="0.9"/><path d="M-1.75 -4.5H0.1499999999999999M-0.8 -5.45V-3.55" stroke="#fff" stroke-width="0.9"/><path d="M-1.75 -1.4H0.1499999999999999M-0.8 -2.3499999999999996V-0.44999999999999996" stroke="#fff" stroke-width="0.9"/></g></g>
<g transform="translate(1839.4 870)"><circle r="12.3" fill="#fff" stroke="#f23645" stroke-width="1.8"/><g clip-path="url(#flagclip)"><rect x="-10.2" y="-10.2" width="20.4" height="20.4" fill="#f5f7fb"/><rect x="-10.2" y="-10.2" width="20.4" height="4.38" fill="#ef5350"/><rect x="-10.2" y="-2.04" width="20.4" height="4.08" fill="#ef5350"/><rect x="-10.2" y="5.72" width="20.4" height="4.48" fill="#ef5350"/><rect x="-10.2" y="-10.2" width="12.8" height="12.3" fill="#1e88e5"/><path d="M-8.35 -7.6H-6.45M-7.4 -8.549999999999999V-6.6499999999999995" stroke="#fff" stroke-width="0.9"/><path d="M-8.35 -4.5H-6.45M-7.4 -5.45V-3.55" stroke="#fff" stroke-width="0.9"/><path d="M-8.35 -1.4H-6.45M-7.4 -2.3499999999999996V-0.44999999999999996" stroke="#fff" stroke-width="0.9"/><path d="M-5.05 -7.6H-3.1499999999999995M-4.1 -8.549999999999999V-6.6499999999999995" stroke="#fff" stroke-width="0.9"/><path d="M-5.05 -4.5H-3.1499999999999995M-4.1 -5.45V-3.55" stroke="#fff" stroke-width="0.9"/><path d="M-5.05 -1.4H-3.1499999999999995M-4.1 -2.3499999999999996V-0.44999999999999996" stroke="#fff" stroke-width="0.9"/><path d="M-1.75 -7.6H0.1499999999999999M-0.8 -8.549999999999999V-6.6499999999999995" stroke="#fff" stroke-width="0.9"/><path d="M-1.75 -4.5H0.1499999999999999M-0.8 -5.45V-3.55" stroke="#fff" stroke-width="0.9"/><path d="M-1.75 -1.4H0.1499999999999999M-0.8 -2.3499999999999996V-0.44999999999999996" stroke="#fff" stroke-width="0.9"/></g></g>
<g transform="translate(1880.3 870)"><circle r="12.3" fill="#fff" stroke="#f23645" stroke-width="1.8"/><g clip-path="url(#flagclip)"><rect x="-10.2" y="-10.2" width="20.4" height="20.4" fill="#f5f7fb"/><rect x="-10.2" y="-10.2" width="20.4" height="4.38" fill="#ef5350"/><rect x="-10.2" y="-2.04" width="20.4" height="4.08" fill="#ef5350"/><rect x="-10.2" y="5.72" width="20.4" height="4.48" fill="#ef5350"/><rect x="-10.2" y="-10.2" width="12.8" height="12.3" fill="#1e88e5"/><path d="M-8.35 -7.6H-6.45M-7.4 -8.549999999999999V-6.6499999999999995" stroke="#fff" stroke-width="0.9"/><path d="M-8.35 -4.5H-6.45M-7.4 -5.45V-3.55" stroke="#fff" stroke-width="0.9"/><path d="M-8.35 -1.4H-6.45M-7.4 -2.3499999999999996V-0.44999999999999996" stroke="#fff" stroke-width="0.9"/><path d="M-5.05 -7.6H-3.1499999999999995M-4.1 -8.549999999999999V-6.6499999999999995" stroke="#fff" stroke-width="0.9"/><path d="M-5.05 -4.5H-3.1499999999999995M-4.1 -5.45V-3.55" stroke="#fff" stroke-width="0.9"/><path d="M-5.05 -1.4H-3.1499999999999995M-4.1 -2.3499999999999996V-0.44999999999999996" stroke="#fff" stroke-width="0.9"/><path d="M-1.75 -7.6H0.1499999999999999M-0.8 -8.549999999999999V-6.6499999999999995" stroke="#fff" stroke-width="0.9"/><path d="M-1.75 -4.5H0.1499999999999999M-0.8 -5.45V-3.55" stroke="#fff" stroke-width="0.9"/><path d="M-1.75 -1.4H0.1499999999999999M-0.8 -2.3499999999999996V-0.44999999999999996" stroke="#fff" stroke-width="0.9"/></g></g>
<g transform="translate(1758.3 838.7)"><path d="M-11.7 -4.2A12.4 12.4 0 0 1 3.4 -11.9" stroke="#9c27b0" stroke-width="1.9" fill="none" stroke-linecap="round"/><path d="M11.9 -3.4A12.4 12.4 0 0 1 -8.9 8.6" stroke="#9c27b0" stroke-width="1.9" fill="none" stroke-linecap="round"/><path d="M3.0 -6.4L-5.4 0.9H0L-4.2 7L4.9 -0.6H0.3Z" fill="#9c27b0" stroke="#9c27b0" stroke-width="0.5" stroke-linejoin="round"/><circle cx="8.15" cy="-8.3" r="3.05" fill="#f23645"/><path d="M-13.6 -1.6Q-12.6 3.6 -7.4 4.6Q-12.6 5.6 -13.6 10.8Q-14.6 5.6 -19.8 4.6Q-14.6 3.6 -13.6 -1.6Z" fill="#7c4dff"/></g>
<g fill="#0e0f14"><path d="M15.2 1111H29.8V1129.8H22.5V1118.3H15.2Z"/><circle cx="35.4" cy="1114.7" r="3.7"/><path d="M43.6 1111H51.8L44 1129.8H35.8Z"/></g>
<text x="61.3" y="1129.8" font-size="26" fill="#0e0f14" font-weight="bold" textLength="150" lengthAdjust="spacing" stroke="#0e0f14" stroke-width="0.22">TradingView</text>
</svg>
</body></html>
